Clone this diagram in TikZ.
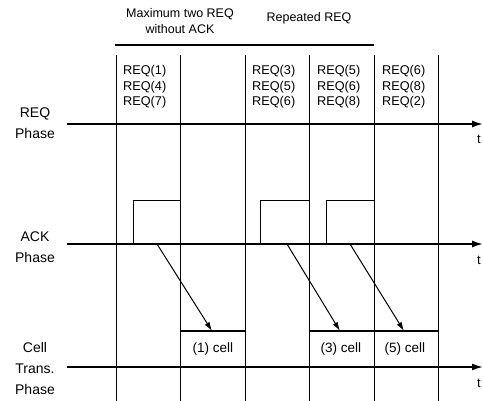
\documentclass[tikz,border=0pt]{standalone}
\usepackage{fontspec}
\setmainfont{Liberation Sans}
\usetikzlibrary{arrows.meta}
\begin{document}
\begin{tikzpicture}[x=1pt,y=-1pt,
  axis/.style={line width=1.6pt,-{Latex[length=11pt,width=7pt]}},
  gridline/.style={line width=1pt},
  sig/.style={line width=1pt},
  ackarrow/.style={line width=1pt,-{Latex[length=9pt,width=5.5pt]}},
  side/.style={font=\fontsize{14}{21}\selectfont, align=center, inner sep=0pt},
  reqtext/.style={font=\fontsize{12.7}{15.5}\selectfont, anchor=west, inner sep=0pt, align=left},
  title/.style={font=\fontsize{12.5}{16}\selectfont, align=center, inner sep=0pt},
  celltext/.style={font=\fontsize{13.5}{16}\selectfont, inner sep=0pt},
  tlabel/.style={font=\fontsize{13}{16}\selectfont, inner sep=0pt}
]
\useasboundingbox (0,0) rectangle (483,401);

% titles
\node[title] (t1) at (180,21) {Maximum two REQ\\without ACK};
\node[title] (t2) at (309,18) {Repeated REQ};
\coordinate (b1) at (115,45);
\coordinate (b2) at (374,45);
\draw[line width=1.2pt] (b1) -- (b2);

% vertical grid lines
\foreach \x in {116,180,245,309,374,438}
  \draw[gridline] (\x,55) -- (\x,401);

% REQ phase
\node[side] (lreq) at (35,123.5) {REQ\\Phase};
\coordinate (ra) at (67,124);
\coordinate (rb) at (483,124);
\draw[axis] (ra) -- (rb);
\node[tlabel] (rt) at (479,139) {t};
\node[reqtext] (q1) at (123,87) {REQ(1)\\REQ(4)\\REQ(7)};
\node[reqtext] (q3) at (252,87) {REQ(3)\\REQ(5)\\REQ(6)};
\node[reqtext] (q4) at (317,87) {REQ(5)\\REQ(6)\\REQ(8)};
\node[reqtext] (q5) at (382,87) {REQ(6)\\REQ(8)\\REQ(2)};

% ACK phase
\node[side] (lack) at (35,247) {ACK\\Phase};
\coordinate (aa) at (67,244);
\coordinate (ab) at (483,244);
\draw[axis] (aa) -- (ab);
\node[tlabel] (at) at (479,260) {t};
\draw[sig] (133,244) -- (133,201) -- (180,201);
\draw[sig] (260,244) -- (260,201) -- (309,201);
\draw[sig] (326,244) -- (326,201) -- (374,201);

% Cell transmission phase
\node[side] (lcell) at (35,368) {Cell\\Trans.\\Phase};
\coordinate (ca) at (67,367);
\coordinate (cb) at (483,367);
\draw[axis] (ca) -- (cb);
\node[tlabel] (ct) at (479,383) {t};
\draw[line width=1.2pt] (180,331) -- (245,331);
\draw[line width=1.2pt] (309,331) -- (438,331);
\node[celltext] (c1) at (213,349) {(1) cell};
\node[celltext] (c3) at (341,349) {(3) cell};
\node[celltext] (c5) at (405,349) {(5) cell};

% ACK to cell arrows
\coordinate (s1) at (157,244); \coordinate (e1) at (212,331);
\coordinate (s2) at (287,244); \coordinate (e2) at (340,331);
\coordinate (s3) at (350,244); \coordinate (e3) at (404,331);
\draw[ackarrow] (s1) -- (e1);
\draw[ackarrow] (s2) -- (e2);
\draw[ackarrow] (s3) -- (e3);
\end{tikzpicture}
\end{document}
